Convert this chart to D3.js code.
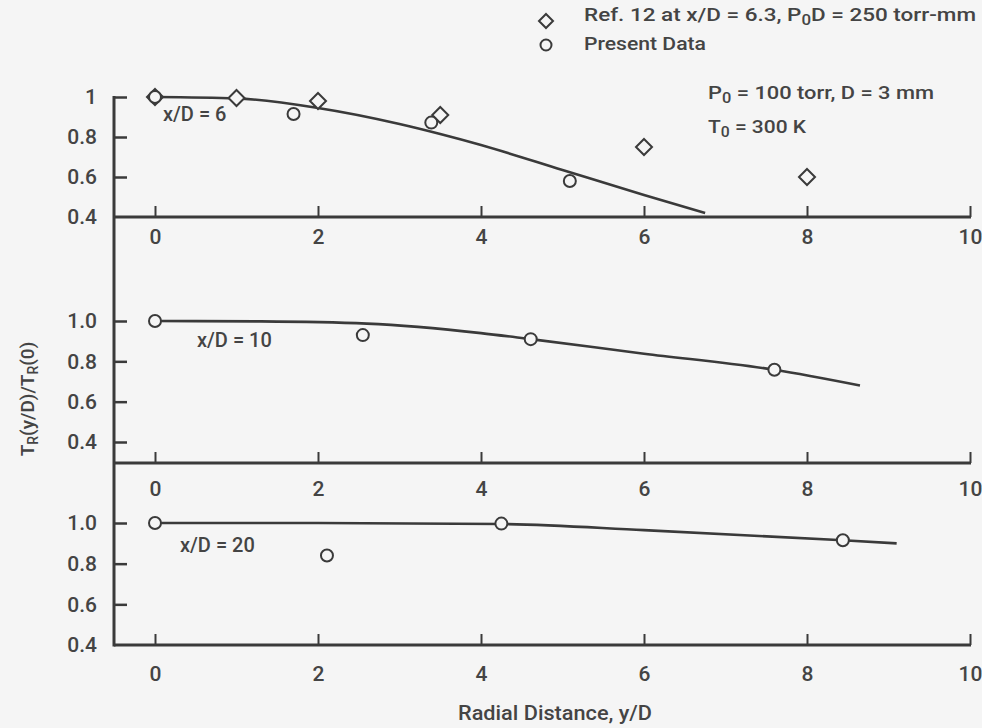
<!DOCTYPE html>
<html>
<head>
<meta charset="utf-8">
<script src="https://cdn.jsdelivr.net/npm/d3@7"></script>
<style>
  html, body { margin: 0; padding: 0; background: #f5f5f5; }
  svg { display: block; }
  text { font-family: Roboto, "Liberation Sans", "DejaVu Sans", sans-serif; fill: #444; }
</style>
</head>
<body>
<svg id="chart" width="982" height="728"></svg>
<script>
// ---------------- data ----------------
const xTickValues = [0, 2, 4, 6, 8, 10];
const xTickLabels = ["0", "2", "4", "6", "8", "10"];

const yTicksTop = [0.4, 0.6, 0.8, 1.0];
const yTickLabelsTop = ["0.4", "0.6", "0.8", "1"];
const yTicksLower = [0.4, 0.6, 0.8, 1.0];
const yTickLabelsLower = ["0.4", "0.6", "0.8", "1.0"];

// x/D = 6 panel
const ref12X = [0, 1.0, 2.0, 3.5, 6.0, 8.0];
const ref12Y = [1.0, 0.995, 0.98, 0.91, 0.75, 0.60];
const present6X = [0, 1.70, 3.39, 5.09];
const present6Y = [1.0, 0.915, 0.872, 0.58];
const fit6X = [0, 1, 2, 3, 3.5, 4, 5, 6, 6.75];
const fit6Y = [1.0, 0.993, 0.945, 0.865, 0.815, 0.76, 0.635, 0.51, 0.42];

// x/D = 10 panel
const present10X = [0, 2.55, 4.61, 7.6];
const present10Y = [1.0, 0.93, 0.91, 0.758];
const fit10X = [0, 1.3, 2.6, 4, 4.61, 6, 7.6, 8.65];
const fit10Y = [1.0, 0.998, 0.987, 0.94, 0.91, 0.838, 0.758, 0.68];

// x/D = 20 panel
const present20X = [0, 2.11, 4.25, 8.44];
const present20Y = [1.0, 0.84, 0.997, 0.915];
const fit20X = [0, 2, 4.25, 6, 8.44, 9.1];
const fit20Y = [1.0, 1.0, 0.995, 0.965, 0.915, 0.9];

const panelLabels = ["x/D = 6", "x/D = 10", "x/D = 20"];

// ---------------- drawing ----------------
const svg = d3.select("#chart");
const INK = "#3a3a3a";
const TXT = "#444";
const axisX0 = 114;

const x = d3.scaleLinear().domain([0, 10]).range([155, 970]);

const panels = [
  { y: d3.scaleLinear().domain([0.4, 1.0]).range([217, 97]), base: 217, ticks: yTicksTop, labels: yTickLabelsTop,
    xPad: 12, fitX: fit6X, fitY: fit6Y, pres: [present6X, present6Y], ref: [ref12X, ref12Y], label: panelLabels[0], lab: [163, 121] },
  { y: d3.scaleLinear().domain([0.4, 1.0]).range([442, 321]), base: 463, ticks: yTicksLower, labels: yTickLabelsLower,
    xPad: 18, fitX: fit10X, fitY: fit10Y, pres: [present10X, present10Y], ref: null, label: panelLabels[1], lab: [197, 347] },
  { y: d3.scaleLinear().domain([0.4, 1.0]).range([645, 523]), base: 645, ticks: yTicksLower, labels: yTickLabelsLower,
    xPad: 21, fitX: fit20X, fitY: fit20Y, pres: [present20X, present20Y], ref: null, label: panelLabels[2], lab: [180, 552] }
];

// continuous left axis line
svg.append("line")
  .attr("x1", axisX0).attr("x2", axisX0)
  .attr("y1", panels[0].y(1.0) - 1).attr("y2", panels[2].base + 1.5)
  .attr("stroke", INK).attr("stroke-width", 3);

const line = d3.line().x(d => x(d[0])).curve(d3.curveMonotoneX);

panels.forEach(p => {
  // y axis ticks (pointing inward)
  const yAxis = d3.axisLeft(p.y).tickValues(p.ticks)
    .tickFormat((d, i) => p.labels[i]).tickSize(-13).tickPadding(17);
  const gy = svg.append("g").attr("transform", `translate(${axisX0},0)`).call(yAxis);
  gy.select(".domain").remove();
  gy.selectAll(".tick line").attr("stroke", INK).attr("stroke-width", 2.5);
  gy.selectAll(".tick text").attr("font-size", 21).attr("font-weight", 500)
    .attr("font-family", "Roboto, sans-serif").style("fill", TXT);
  gy.selectAll(".tick line").filter(d => p.y(d) >= p.base - 1).remove();

  // baseline
  svg.append("line")
    .attr("x1", axisX0).attr("x2", x(10) + 1)
    .attr("y1", p.base).attr("y2", p.base)
    .attr("stroke", INK).attr("stroke-width", 3);

  // x axis ticks upward
  const xAxis = d3.axisBottom(x).tickValues(xTickValues)
    .tickFormat((d, i) => xTickLabels[i]).tickSize(-11).tickPadding(p.xPad);
  const gx = svg.append("g").attr("transform", `translate(0,${p.base})`).call(xAxis);
  gx.select(".domain").remove();
  gx.selectAll(".tick line").attr("stroke", INK).attr("stroke-width", 2);
  gx.selectAll(".tick text").attr("font-size", 21).attr("font-weight", 500)
    .attr("font-family", "Roboto, sans-serif").style("fill", TXT);

  // fitted curve
  svg.append("path")
    .datum(p.fitX.map((v, i) => [v, p.fitY[i]]))
    .attr("d", line.y(d => p.y(d[1])))
    .attr("fill", "none").attr("stroke", INK).attr("stroke-width", 2.6);

  // Ref. 12 diamonds
  if (p.ref) {
    svg.selectAll(null).data(p.ref[0].map((v, i) => [v, p.ref[1][i]])).enter()
      .append("path")
      .attr("d", "M0,-8L8,0L0,8L-8,0Z")
      .attr("transform", d => `translate(${x(d[0])},${p.y(d[1])})`)
      .attr("fill", "#f5f5f5").attr("stroke", INK).attr("stroke-width", 2);
  }
  // present data circles
  svg.selectAll(null).data(p.pres[0].map((v, i) => [v, p.pres[1][i]])).enter()
    .append("circle")
    .attr("cx", d => x(d[0])).attr("cy", d => p.y(d[1])).attr("r", 6)
    .attr("fill", "#f5f5f5").attr("stroke", INK).attr("stroke-width", 2);

  // panel label
  svg.append("text").attr("x", p.lab[0]).attr("y", p.lab[1])
    .attr("font-size", 20).attr("font-weight", 500).style("fill", TXT).text(p.label);
});

// ---------------- legend ----------------
svg.append("path").attr("d", "M0,-7L7,0L0,7L-7,0Z")
  .attr("transform", "translate(546,21)")
  .attr("fill", "none").attr("stroke", INK).attr("stroke-width", 2);
svg.append("circle").attr("cx", 546).attr("cy", 45).attr("r", 5.5)
  .attr("fill", "none").attr("stroke", INK).attr("stroke-width", 2);

function subText(xp, yp, parts, size, len) {
  const t = svg.append("text").attr("x", xp).attr("y", yp)
    .attr("font-size", size).attr("font-weight", 500).style("fill", TXT);
  parts.forEach(pt => {
    const s = t.append("tspan").text(pt[0]);
    if (pt[1] === "sub") s.attr("baseline-shift", "-30%").attr("font-size", size * 0.75);
  });
  if (len) t.attr("textLength", len).attr("lengthAdjust", "spacingAndGlyphs");
  return t;
}

subText(584, 21, [["Ref. 12 at x/D = 6.3,  P"], ["0", "sub"], ["D = 250 torr-mm"]], 19, 392);
subText(584, 50, [["Present Data"]], 19, 122);
subText(708, 99, [["P"], ["0", "sub"], [" = 100 torr,  D = 3 mm"]], 19, 226);
subText(708, 133, [["T"], ["0", "sub"], [" = 300 K"]], 19, 98);

// axis titles
svg.append("text").attr("x", 555).attr("y", 720).attr("text-anchor", "middle")
  .attr("font-size", 20).attr("font-weight", 500).style("fill", TXT)
  .attr("textLength", 194).attr("lengthAdjust", "spacingAndGlyphs")
  .text("Radial Distance, y/D");

const yt = svg.append("text").attr("transform", "translate(34,399) rotate(-90)")
  .attr("text-anchor", "middle").attr("font-size", 19).attr("font-weight", 500).style("fill", TXT);
yt.append("tspan").text("T");
yt.append("tspan").text("R").attr("baseline-shift", "-30%").attr("font-size", 14);
yt.append("tspan").text("(y/D)/T");
yt.append("tspan").text("R").attr("baseline-shift", "-30%").attr("font-size", 14);
yt.append("tspan").text("(0)");
</script>
</body>
</html>
